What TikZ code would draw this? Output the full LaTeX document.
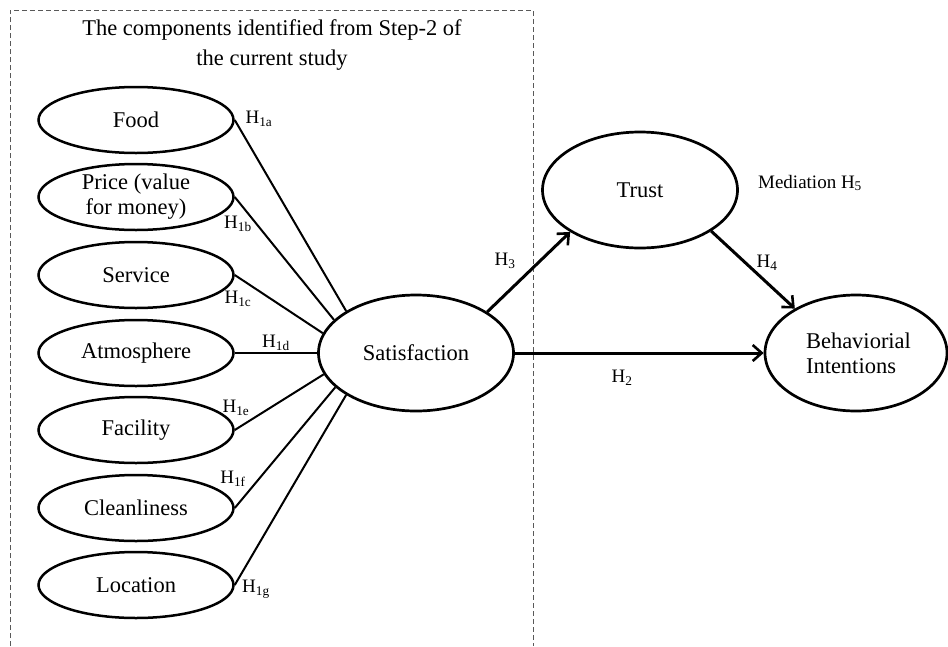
\documentclass[tikz,border=0pt]{standalone}
\usepackage{fontspec}
\setmainfont{Liberation Serif}
\usetikzlibrary{shapes.geometric,arrows.meta}
\begin{document}
\begin{tikzpicture}[x=1pt,y=-1pt,
  comp/.style={ellipse,draw,line width=2.5pt,minimum width=195pt,minimum height=66pt,inner sep=0pt,font=\fontsize{22.5}{25}\selectfont,align=center},
  big/.style={ellipse,draw,line width=2.7pt,minimum width=195pt,minimum height=116pt,inner sep=0pt,font=\fontsize{22.5}{25}\selectfont,align=center},
  link/.style={line width=2pt},
  arr/.style={line width=3pt,-{Straight Barb[length=9pt,width=16pt,line width=2.6pt]}},
  hlab/.style={font=\fontsize{19}{21}\selectfont,inner sep=0pt},
  boxline/.style={gray!70!black,line width=0.8pt,dash pattern=on 5pt off 3pt}
]
\useasboundingbox (0,0) rectangle (948,646);
\coordinate (b1) at (10,646);
\coordinate (b2) at (10,10);
\coordinate (b3) at (533,10);
\coordinate (b4) at (533,646);
\draw[boxline] (b1) -- (b2) -- (b3) -- (b4);
\node[font=\fontsize{22.5}{30}\selectfont,align=center] (title) at (272,45) {The components identified from Step-2 of\\the current study};

\node[comp] (food) at (136,120) {Food};
\node[comp] (price) at (136,197) {Price (value\\for money)};
\node[comp] (service) at (136,275) {Service};
\node[comp] (atmo) at (136,353) {Atmosphere};
\node[comp] (fac) at (136,430) {Facility};
\node[comp] (clean) at (136,508) {Cleanliness};
\node[comp] (loc) at (136,585) {Location};

\node[big] (sat) at (416,353) {Satisfaction};
\node[big] (trust) at (640,190) {Trust};
\node[big,minimum width=182pt,text width=124pt,align=left] (bi) at (856,353) {\hspace*{12pt}Behaviorial\\\hspace*{12pt}Intentions};

\draw[link] (food.east) -- (sat.149);
\draw[link] (price.east) -- (sat.158);
\draw[link] (service.east) -- (sat.168);
\draw[link] (atmo.east) -- (sat.180);
\draw[link] (fac.east) -- (sat.193);
\draw[link] (clean.east) -- (sat.203);
\draw[link] (loc.east) -- (sat.211);

\draw[arr] (sat.30) -- (trust.211);
\draw[arr] (trust.330) -- (bi.144);
\draw[arr] (sat.east) -- (bi.west);

\node[hlab] (h1a) at (259,119) {H\textsubscript{1a}};
\node[hlab] (h1b) at (238,224) {H\textsubscript{1b}};
\node[hlab] (h1c) at (238,299) {H\textsubscript{1c}};
\node[hlab] (h1d) at (276,343) {H\textsubscript{1d}};
\node[hlab] (h1e) at (236,408) {H\textsubscript{1e}};
\node[hlab] (h1f) at (233,479) {H\textsubscript{1f}};
\node[hlab] (h1g) at (256,589) {H\textsubscript{1g}};
\node[hlab] (h3) at (505,261) {H\textsubscript{3}};
\node[hlab] (h4) at (767,263) {H\textsubscript{4}};
\node[hlab] (h2) at (622,378) {H\textsubscript{2}};
\node[hlab] (h5) at (810,183) {Mediation H\textsubscript{5}};
\end{tikzpicture}
\end{document}
